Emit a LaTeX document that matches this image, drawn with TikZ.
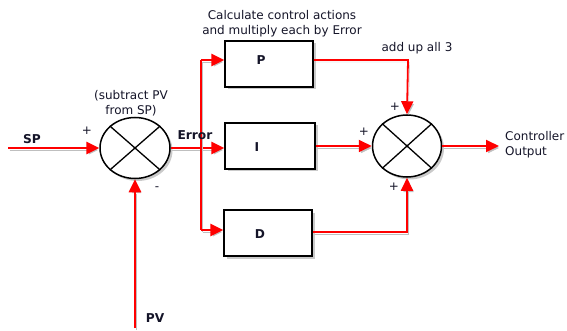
\documentclass[tikz,border=0pt]{standalone}
\usepackage{fontspec}
\setmainfont{DejaVu Sans}
\usetikzlibrary{arrows.meta,shapes.geometric,shadows}
\definecolor{txt}{HTML}{141428}
\begin{document}
\begin{tikzpicture}[x=1pt,y=-1pt,
  font=\fontsize{12}{15}\selectfont,
  lbl/.style={inner sep=0pt,text=txt},
  blbl/.style={inner sep=0pt,text=txt,font=\fontsize{12.2}{14}\selectfont\bfseries},
  blockbox/.style={draw=black,line width=1.5pt,fill=white,minimum width=88pt,minimum height=46pt,inner sep=0pt,
    drop shadow={shadow xshift=2.5pt,shadow yshift=-2.5pt,opacity=0.35,fill=black!60}},
  sumnode/.style={draw=black,line width=1.5pt,fill=white,ellipse,inner sep=0pt,
    drop shadow={shadow xshift=2.5pt,shadow yshift=-2.5pt,opacity=0.35,fill=black!60}},
  sig/.style={draw=red,line width=2.8pt,-{Triangle[length=13pt,width=12pt]},
    preaction={draw=black!25,transform canvas={shift={(1.5pt,-2pt)}}}},
  sigthin/.style={sig,line width=1.8pt},
  plain/.style={draw=red,line width=2.8pt,
    preaction={draw=black!25,transform canvas={shift={(1.5pt,-2pt)}}}}
]
\useasboundingbox (0,0) rectangle (567,331);

% summing junctions
\node[sumnode,minimum width=70pt,minimum height=61pt] (L) at (135,148) {};
\node[sumnode,minimum width=69pt,minimum height=62pt] (R) at (407,146) {};
\draw[line width=1.3pt] (L.north west) -- (L.south east) (L.north east) -- (L.south west);
\draw[line width=1.3pt] (R.north west) -- (R.south east) (R.north east) -- (R.south west);

% blocks
\node[blockbox] (P) at (269,64) {};
\node[blockbox,minimum width=90pt] (I) at (270,146) {};
\node[blockbox] (D) at (268,233) {};
\node[blbl] (Pl) at (261,60) {P};
\node[blbl] (Il) at (257,147) {I};
\node[blbl] (Dl) at (260,234) {D};

% coordinates
\coordinate (spstart) at (8,148);
\coordinate (pvstart) at (135,328);
\coordinate (splitP) at (201,60);
\coordinate (splitD) at (201,230);
\coordinate (pturn) at (408,60);
\coordinate (dturn) at (407,232);
\coordinate (outend) at (499,146);

% signals
\draw[sig] (spstart) -- (L.west);
\draw[sig] (pvstart) -- (L.south);
\draw[sig] (L.east) -- (I.west |- L.east);
\draw[plain] (splitP) -- (splitD);
\draw[sig] (splitP) -- (P.west |- splitP);
\draw[sig] (splitD) -- (D.west |- splitD);
\draw[sigthin] (P.east |- pturn) -- (pturn) -- (R.north);
\draw[sigthin] (I.east) -- (R.west);
\draw[sigthin] (D.east |- dturn) -- (dturn) -- (R.south);
\draw[sigthin] (R.east) -- (outend);

% labels
\node[blbl] (sp) at (32,139) {SP};
\node[blbl] (pv) at (155,318) {PV};
\node[blbl] (err) at (195,135) {Error};
\node[lbl] (lp) at (87,131) {+};
\node[lbl] (lm) at (157,189) {-};
\node[lbl,align=center] (sub) at (131,103) {(subtract PV\\from SP)};
\node[lbl,align=center] (calc) at (282,24) {Calculate control actions\\and multiply each by Error};
\node[lbl] (add) at (417,48) {add up all 3};
\node[lbl] (rp1) at (395,107) {+};
\node[lbl] (rp2) at (364,132) {+};
\node[lbl] (rp3) at (394,187) {+};
\node[lbl,align=left,anchor=west] (out) at (505,145) {Controller\\Output};
\end{tikzpicture}
\end{document}
